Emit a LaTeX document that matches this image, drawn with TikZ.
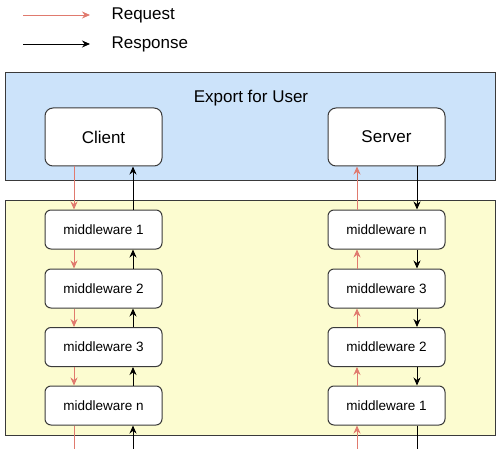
\documentclass[tikz,border=0pt]{standalone}
\usepackage{fontspec}
\setmainfont{Liberation Sans}
\usetikzlibrary{arrows.meta}

\definecolor{reqred}{HTML}{E07A6E}
\definecolor{userblue}{HTML}{CCE3FA}
\definecolor{mwyellow}{HTML}{FCFCD0}
\definecolor{edgegray}{HTML}{3A3A3A}

\tikzset{
  bigbox/.style={draw=edgegray, line width=1pt, rectangle, minimum width=117pt, minimum height=58pt, rounded corners=8pt, fill=white, font=\fontsize{17}{20}\selectfont},
  mwbox/.style={draw=edgegray, line width=1pt, rectangle, minimum width=117pt, minimum height=39pt, rounded corners=6pt, fill=white, font=\fontsize{13.5}{16}\selectfont},
  req/.style={reqred, line width=0.9pt, -{Stealth[length=8pt,width=7pt]}},
  resp/.style={black, line width=0.9pt, -{Stealth[length=8pt,width=7pt]}},
  reqline/.style={reqred, line width=0.9pt},
  respline/.style={black, line width=0.9pt}
}

\begin{document}
\begin{tikzpicture}[x=1pt,y=-1pt]
\useasboundingbox (0,0) rectangle (500,449);

% legend
\coordinate (reqa) at (23,15);
\coordinate (reqb) at (90,15);
\coordinate (respa) at (23,44);
\coordinate (respb) at (90,44);
\draw[req] (reqa) -- (reqb);
\draw[resp] (respa) -- (respb);
\node[anchor=west, font=\fontsize{17}{20}\selectfont] (reqtext) at (108,15) {Request};
\node[anchor=west, font=\fontsize{17}{20}\selectfont] (resptext) at (108,44) {Response};

% the two areas
\draw[draw=edgegray, line width=1pt, fill=userblue] (5,73) rectangle (495,180);
\draw[draw=edgegray, line width=1pt, fill=mwyellow] (5,200) rectangle (495,435);
\node[font=\fontsize{17}{20}\selectfont] (title) at (251,98) {Export for User};

% client and server
\node[bigbox] (client) at (103.5,137) {Client};
\node[bigbox] (server) at (386.5,137) {Server};

% middleware stacks
\node[mwbox] (l1) at (103.5,229.5) {middleware 1};
\node[mwbox] (l2) at (103.5,288.5) {middleware 2};
\node[mwbox] (l3) at (103.5,347) {middleware 3};
\node[mwbox] (ln) at (103.5,405.5) {middleware n};

\node[mwbox] (rn) at (386.5,229.5) {middleware n};
\node[mwbox] (r3) at (386.5,288.5) {middleware 3};
\node[mwbox] (r2) at (386.5,347) {middleware 2};
\node[mwbox] (r1) at (386.5,405.5) {middleware 1};

% free ends at the bottom
\coordinate (lreqend) at (74,449);
\coordinate (lrespend) at (133,449);
\coordinate (rreqend) at (357,449);
\coordinate (rrespend) at (417,449);

% left side: request goes down, response goes up
\draw[req] (client.south -| lreqend) -- (l1.north -| lreqend);
\draw[req] (l1.south -| lreqend) -- (l2.north -| lreqend);
\draw[req] (l2.south -| lreqend) -- (l3.north -| lreqend);
\draw[req] (l3.south -| lreqend) -- (ln.north -| lreqend);
\draw[reqline] (ln.south -| lreqend) -- (lreqend);

\draw[resp] (l1.north -| lrespend) -- (client.south -| lrespend);
\draw[resp] (l2.north -| lrespend) -- (l1.south -| lrespend);
\draw[resp] (l3.north -| lrespend) -- (l2.south -| lrespend);
\draw[resp] (ln.north -| lrespend) -- (l3.south -| lrespend);
\draw[resp] (lrespend) -- (ln.south -| lrespend);

% right side: request goes up, response goes down
\draw[req] (rreqend) -- (r1.south -| rreqend);
\draw[req] (r1.north -| rreqend) -- (r2.south -| rreqend);
\draw[req] (r2.north -| rreqend) -- (r3.south -| rreqend);
\draw[req] (r3.north -| rreqend) -- (rn.south -| rreqend);
\draw[req] (rn.north -| rreqend) -- (server.south -| rreqend);

\draw[resp] (server.south -| rrespend) -- (rn.north -| rrespend);
\draw[resp] (rn.south -| rrespend) -- (r3.north -| rrespend);
\draw[resp] (r3.south -| rrespend) -- (r2.north -| rrespend);
\draw[resp] (r2.south -| rrespend) -- (r1.north -| rrespend);
\draw[respline] (r1.south -| rrespend) -- (rrespend);

\end{tikzpicture}
\end{document}
